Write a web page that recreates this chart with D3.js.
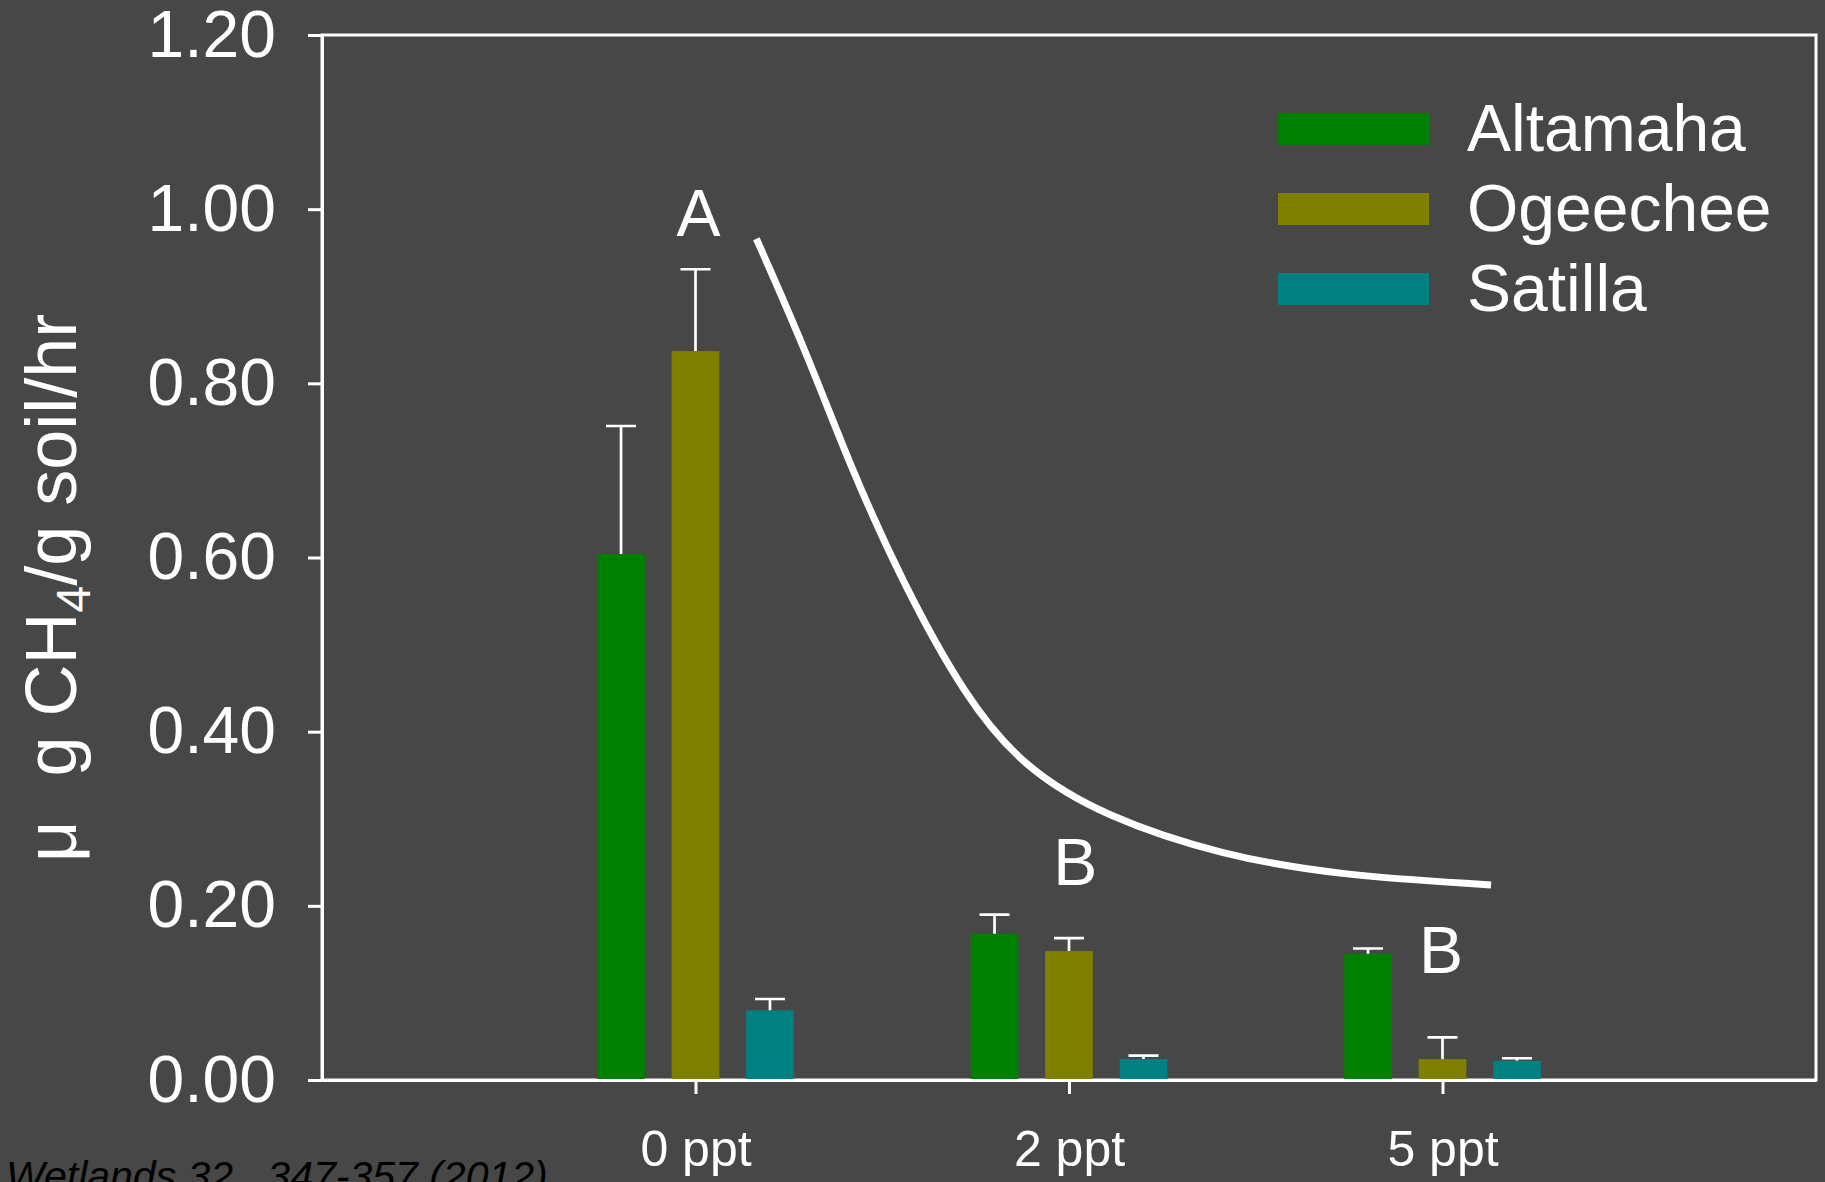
<!DOCTYPE html>
<html>
<head>
<meta charset="utf-8">
<script src="https://cdn.jsdelivr.net/npm/d3@7"></script>
<style>
  html, body { margin: 0; padding: 0; background: #474747; }
  svg { display: block; }
  text { font-family: "Liberation Sans", Arial, sans-serif; }
</style>
</head>
<body>
<svg id="chart" width="1825" height="1182"></svg>
<script>
// Salinity treatments and river sites
const categories = ["0 ppt", "2 ppt", "5 ppt"];
const series = ["Altamaha", "Ogeechee", "Satilla"];
const seriesColors = ["#008000", "#808000", "#008080"];

// Mean CH4 production (µg CH4 / g soil / hr) and standard error
const altamaha    = [0.604, 0.168, 0.145];
const altamahaErr = [0.147, 0.022, 0.006];
const ogeechee    = [0.837, 0.148, 0.024];
const ogeecheeErr = [0.094, 0.015, 0.025];
const satilla     = [0.080, 0.024, 0.022];
const satillaErr  = [0.013, 0.004, 0.003];

// Significance groups (x in treatment units, y in rate units)
const groupLetters = ["A", "B", "B"];
const groupLetterX = [1.008, 2.017, 2.996];
const groupLetterY = [0.969, 0.224, 0.123];

// Hand-drawn trend curve (x in treatment units, y in rate units)
const trendX = [1.163, 1.294, 1.413, 1.553, 1.724, 1.880, 2.098, 2.410, 2.722, 3.130];
const trendY = [0.966, 0.839, 0.706, 0.572, 0.438, 0.358, 0.302, 0.258, 0.235, 0.224];

const yTicks = [0, 0.2, 0.4, 0.6, 0.8, 1.0, 1.2];

const means = [altamaha, ogeechee, satilla];
const errs = [altamahaErr, ogeecheeErr, satillaErr];

const svg = d3.select("#chart");
const plotLeft = 322, plotRight = 1816, plotTop = 35, plotBottom = 1080;

const x = d3.scalePoint().domain(categories).range([plotLeft, plotRight]).padding(1);
const xLin = d3.scaleLinear().domain([0, 4]).range([plotLeft, plotRight]);
const xSub = d3.scaleBand().domain(series).range([-98.3, 98.3]).paddingInner(0.36);
const y = d3.scaleLinear().domain([0, 1.2]).range([plotBottom, plotTop]);

// Frame
svg.append("rect")
  .attr("x", plotLeft).attr("y", plotTop)
  .attr("width", plotRight - plotLeft).attr("height", plotBottom - plotTop)
  .attr("fill", "none").attr("stroke", "#fff").attr("stroke-width", 3);

// Bars
const rows = [];
categories.forEach((c, i) => series.forEach((s, j) => {
  rows.push({ c, s, j, v: means[j][i], e: errs[j][i] });
}));

const g = svg.append("g");
g.selectAll("rect.bar").data(rows).join("rect")
  .attr("class", "bar")
  .attr("x", d => x(d.c) + xSub(d.s))
  .attr("y", d => y(d.v))
  .attr("width", xSub.bandwidth())
  .attr("height", d => y(0) - y(d.v))
  .attr("fill", d => seriesColors[d.j]);

// Error bars (upper only)
const cap = 15;
g.selectAll("path.err").data(rows).join("path")
  .attr("class", "err")
  .attr("d", d => {
    const cx = x(d.c) + xSub(d.s) + xSub.bandwidth() / 2;
    const y0 = y(d.v), y1 = y(d.v + d.e);
    return `M${cx},${y0}V${y1}M${cx - cap},${y1}H${cx + cap}`;
  })
  .attr("fill", "none").attr("stroke", "#fff").attr("stroke-width", 2.7);

// Axes
const yAxis = d3.axisLeft(y).tickValues(yTicks).tickFormat(d3.format(".2f"))
  .tickSizeInner(14).tickSizeOuter(0).tickPadding(32);
const ya = svg.append("g").attr("transform", `translate(${plotLeft},0)`).call(yAxis);
ya.select(".domain").attr("stroke", "#fff").attr("stroke-width", 3);
ya.selectAll(".tick line").attr("stroke", "#fff").attr("stroke-width", 3);
ya.selectAll(".tick text").attr("fill", "#fff")
  .style("font-size", "66px").style("font-family", "'Liberation Sans', Arial, sans-serif");

const xAxis = d3.axisBottom(x).tickSizeInner(14).tickSizeOuter(0).tickPadding(36);
const xa = svg.append("g").attr("transform", `translate(0,${plotBottom})`).call(xAxis);
xa.select(".domain").attr("stroke", "#fff").attr("stroke-width", 3);
xa.selectAll(".tick line").attr("stroke", "#fff").attr("stroke-width", 3);
xa.selectAll(".tick text").attr("fill", "#fff")
  .style("font-size", "50px").style("font-family", "'Liberation Sans', Arial, sans-serif");

// Trend curve
const pts = trendX.map((v, i) => [v, trendY[i]]);
svg.append("path")
  .attr("d", d3.line().x(d => xLin(d[0])).y(d => y(d[1])).curve(d3.curveBasis)(pts))
  .attr("fill", "none").attr("stroke", "#fff").attr("stroke-width", 7)
  .attr("stroke-linecap", "butt");

// Group letters
svg.selectAll("text.grp").data(groupLetters).join("text")
  .attr("class", "grp")
  .attr("x", (d, i) => xLin(groupLetterX[i]))
  .attr("y", (d, i) => y(groupLetterY[i]))
  .attr("text-anchor", "middle")
  .attr("fill", "#fff").style("font-size", "66px")
  .text(d => d);

// Legend
const lg = svg.append("g").attr("transform", "translate(1278,113)");
series.forEach((s, j) => {
  const row = lg.append("g").attr("transform", `translate(0,${j * 80})`);
  row.append("rect").attr("width", 151).attr("height", 32).attr("fill", seriesColors[j]);
  row.append("text").attr("x", 189).attr("y", 38).attr("fill", "#fff")
    .style("font-size", "66px").text(s);
});

// Y axis title
const yt = svg.append("text")
  .attr("transform", "translate(76,862) rotate(-90)")
  .attr("fill", "#fff").style("font-size", "72px");
yt.append("tspan").text("μ");
yt.append("tspan").attr("dx", 44).text("g CH");
yt.append("tspan").style("font-size", "48px").attr("dy", 14).text("4");
yt.append("tspan").attr("dy", -14).text("/g soil/hr");

// Source
const src = svg.append("text")
  .attr("x", 6).attr("y", 1190)
  .attr("fill", "#000").style("font-size", "41px").style("font-style", "italic")
  .style("white-space", "pre");
src.append("tspan").text("Wetlands");
src.append("tspan").text(" 32,  347-357 (2012)");
</script>
</body>
</html>
